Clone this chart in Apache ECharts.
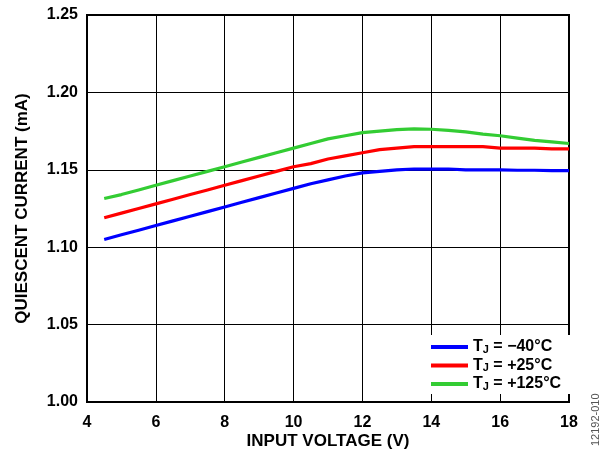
<!DOCTYPE html>
<html>
<head>
<meta charset="utf-8">
<script src="https://cdn.jsdelivr.net/npm/echarts@6/dist/echarts.min.js"></script>
<style>html,body{margin:0;padding:0;background:#fff}#c{width:612px;height:450px}</style>
</head>
<body>
<div id="c"></div>
<script>
var voltage = [4.5,5,5.5,6,6.5,7,7.5,8,8.5,9,9.5,10,10.5,11,11.5,12,12.5,13,13.5,14,14.5,15,15.5,16,16.5,17,17.5,18];
var iqM40 = [1.105,1.108,1.111,1.114,1.117,1.120,1.123,1.126,1.129,1.132,1.135,1.138,1.141,1.1435,1.146,1.148,1.149,1.150,1.1505,1.1505,1.1505,1.150,1.150,1.150,1.1497,1.1497,1.1495,1.1495];
var iqP25 = [1.119,1.122,1.125,1.128,1.131,1.134,1.137,1.140,1.143,1.146,1.149,1.152,1.154,1.157,1.159,1.161,1.163,1.164,1.165,1.165,1.165,1.165,1.165,1.164,1.164,1.164,1.1635,1.1635];
var iqP125 = [1.1315,1.134,1.137,1.140,1.143,1.146,1.149,1.152,1.155,1.158,1.161,1.164,1.167,1.170,1.172,1.174,1.175,1.176,1.1765,1.1762,1.1755,1.1745,1.173,1.172,1.1705,1.169,1.168,1.167];
var seriesNames = ['-40', '+25', '+125'];
var legendLabels = {'-40': '\u221240\u00b0C', '+25': '+25\u00b0C', '+125': '+125\u00b0C'};
var xTitle = 'INPUT VOLTAGE (V)';
var yTitle = 'QUIESCENT CURRENT (mA)';
var figId = '12192-010';

function pairs(xs, ys){ return xs.map(function(x,i){ return [x, ys[i]]; }); }

var chart = echarts.init(document.getElementById('c'), null, {renderer:'canvas'});
var font = 'Liberation Sans, Arial, sans-serif';
var colors = ['#0000ff', '#ff0000', '#33cc33'];
var datas = [iqM40, iqP25, iqP125];

chart.setOption({
  animation: false,
  backgroundColor: '#fff',
  grid: {left: 87, top: 15, right: 43, bottom: 48, containLabel: false, outerBoundsMode: 'none',
    show: true, borderColor: '#000', borderWidth: 2, backgroundColor: 'transparent'},
  xAxis: {
    type: 'value', min: 4, max: 18, interval: 2,
    name: xTitle, nameLocation: 'middle', nameGap: 31, nameMoveOverlap: false,
    nameTextStyle: {fontFamily: font, fontWeight: 'bold', fontSize: 17, color: '#000'},
    axisLine: {show: true, lineStyle: {color: '#000', width: 2}},
    axisTick: {show: true, inside: true, length: 5, lineStyle: {color: '#000', width: 1}},
    axisLabel: {fontFamily: font, fontWeight: 'bold', fontSize: 16, color: '#000', margin: 13},
    splitLine: {show: true, lineStyle: {color: '#000', width: 1}}
  },
  yAxis: {
    type: 'value', min: 1.00, max: 1.25, interval: 0.05,
    name: yTitle, nameLocation: 'middle', nameGap: 56,
    nameTextStyle: {fontFamily: font, fontWeight: 'bold', fontSize: 17, color: '#000'},
    axisLine: {show: true, lineStyle: {color: '#000', width: 2}},
    axisTick: {show: true, inside: true, length: 5, lineStyle: {color: '#000', width: 1}},
    axisLabel: {fontFamily: font, fontWeight: 'bold', fontSize: 16, color: '#000', margin: 9,
      formatter: function(v){ return v.toFixed(2); }},
    splitLine: {show: true, lineStyle: {color: '#000', width: 1}}
  },
  legend: {
    orient: 'vertical', left: 427, top: 335,
    backgroundColor: '#fff', padding: [2, 14, 2, 4], itemGap: 0.5,
    itemWidth: 37, itemHeight: 4, icon: 'rect',
    data: seriesNames,
    formatter: function(n){ return '{t|T}{s|J}{t| = ' + legendLabels[n] + '}'; },
    textStyle: {
      fontFamily: font, fontWeight: 'bold', fontSize: 16, color: '#000',
      rich: {
        t: {fontFamily: font, fontWeight: 'bold', fontSize: 16, color: '#000', lineHeight: 16, verticalAlign: 'middle'},
        s: {fontFamily: font, fontWeight: 'bold', fontSize: 11, color: '#000', lineHeight: 16, verticalAlign: 'bottom', padding: [7, 0, 0, 0]}
      }
    }
  },
  graphic: [{
    type: 'text', x: 590, y: 446, rotation: Math.PI/2,
    style: {text: figId, fontFamily: font, fontSize: 11, fill: '#555', textAlign: 'left', textVerticalAlign: 'top'}
  }],
  series: seriesNames.map(function(n, i){
    return {
      name: n, type: 'line', showSymbol: false, symbol: 'none',
      data: pairs(voltage, datas[i]),
      lineStyle: {color: colors[i], width: 3.2},
      itemStyle: {color: colors[i]},
      z: 3 + i
    };
  })
});
</script>
</body>
</html>
